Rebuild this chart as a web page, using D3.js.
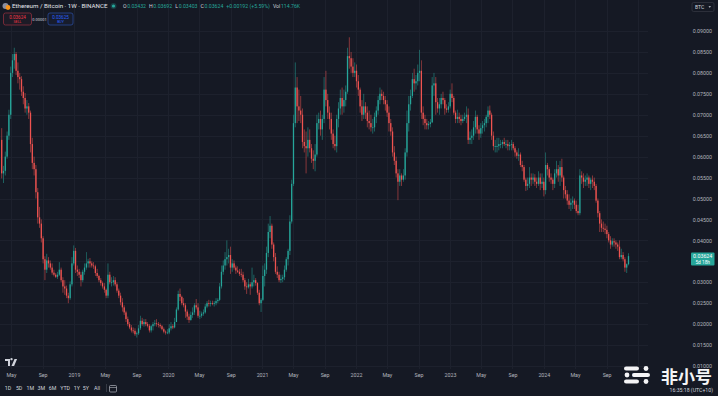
<!DOCTYPE html>
<html lang="en">
<head>
<meta charset="UTF-8">
<title>Ethereum / Bitcoin · 1W · BINANCE</title>
<script src="https://d3js.org/d3.v7.min.js"></script>
<style>
  body { margin: 0; background: #151924; overflow: hidden; }
  svg { display: block; font-family: Roboto, "Noto Sans", sans-serif; }
</style>
</head>
<body>
<svg id="chart" width="718" height="396"></svg>
<script>
// weekly candles, first week opens Monday 2018-03-26, open = previous close
const firstWeek = "2018-03-26";
const firstOpen = 0.0640;

const closes = [
  0.0560,0.0566,0.0600,0.0650,0.0700,0.0800,0.0830,0.0845,0.0805,0.0790,
  0.0785,0.0755,0.0740,0.0715,0.0720,0.0705,0.0630,0.0585,0.0570,0.0515,
  0.0455,0.0440,0.0405,0.0355,0.0330,0.0352,0.0345,0.0335,0.0323,0.0318,
  0.0313,0.0318,0.0330,0.0305,0.0290,0.0285,0.0268,0.0262,0.0295,0.0345,
  0.0375,0.0330,0.0325,0.0318,0.0305,0.0325,0.0335,0.0345,0.0350,0.0345,
  0.0340,0.0338,0.0322,0.0315,0.0305,0.0298,0.0290,0.0282,0.0268,0.0318,
  0.0300,0.0300,0.0305,0.0295,0.0280,0.0268,0.0252,0.0240,0.0228,0.0212,
  0.0200,0.0192,0.0185,0.0184,0.0176,0.0178,0.0190,0.0208,0.0200,0.0205,
  0.0200,0.0196,0.0185,0.0195,0.0200,0.0202,0.0200,0.0198,0.0195,0.0188,
  0.0182,0.0180,0.0180,0.0190,0.0195,0.0192,0.0205,0.0235,0.0272,0.0265,
  0.0250,0.0245,0.0230,0.0218,0.0210,0.0222,0.0228,0.0245,0.0240,0.0220,
  0.0220,0.0225,0.0228,0.0242,0.0250,0.0248,0.0250,0.0248,0.0250,0.0255,
  0.0258,0.0290,0.0325,0.0340,0.0355,0.0360,0.0365,0.0335,0.0345,0.0335,
  0.0328,0.0325,0.0320,0.0318,0.0305,0.0290,0.0288,0.0295,0.0290,0.0300,
  0.0305,0.0298,0.0275,0.0250,0.0258,0.0315,0.0330,0.0370,0.0420,0.0435,
  0.0390,0.0360,0.0325,0.0318,0.0305,0.0308,0.0312,0.0330,0.0355,0.0375,
  0.0445,0.0535,0.0680,0.0765,0.0720,0.0710,0.0700,0.0635,0.0625,0.0620,
  0.0640,0.0620,0.0595,0.0590,0.0605,0.0680,0.0690,0.0665,0.0690,0.0760,
  0.0735,0.0705,0.0690,0.0655,0.0630,0.0625,0.0690,0.0715,0.0740,0.0720,
  0.0735,0.0755,0.0840,0.0835,0.0815,0.0800,0.0805,0.0780,0.0760,0.0720,
  0.0700,0.0720,0.0705,0.0685,0.0680,0.0670,0.0670,0.0695,0.0710,0.0735,
  0.0750,0.0745,0.0735,0.0725,0.0705,0.0680,0.0660,0.0610,0.0590,0.0560,
  0.0540,0.0555,0.0545,0.0555,0.0610,0.0680,0.0725,0.0745,0.0785,0.0775,
  0.0780,0.0800,0.0805,0.0705,0.0690,0.0680,0.0675,0.0678,0.0682,0.0770,
  0.0775,0.0730,0.0715,0.0725,0.0740,0.0735,0.0715,0.0712,0.0720,0.0750,
  0.0740,0.0705,0.0690,0.0695,0.0690,0.0685,0.0690,0.0695,0.0700,0.0640,
  0.0645,0.0650,0.0670,0.0695,0.0665,0.0655,0.0668,0.0675,0.0680,0.0695,
  0.0710,0.0700,0.0650,0.0625,0.0625,0.0625,0.0630,0.0630,0.0635,0.0630,
  0.0630,0.0625,0.0628,0.0630,0.0620,0.0610,0.0602,0.0605,0.0580,0.0575,
  0.0545,0.0530,0.0535,0.0550,0.0545,0.0550,0.0540,0.0535,0.0550,0.0535,
  0.0540,0.0520,0.0580,0.0570,0.0550,0.0545,0.0535,0.0560,0.0570,0.0555,
  0.0575,0.0550,0.0520,0.0510,0.0495,0.0485,0.0490,0.0495,0.0485,0.0470,
  0.0465,0.0555,0.0550,0.0540,0.0545,0.0550,0.0535,0.0545,0.0540,0.0530,
  0.0495,0.0465,0.0440,0.0430,0.0428,0.0425,0.0415,0.0400,0.0390,0.0398,
  0.0395,0.0390,0.0385,0.0360,0.0365,0.0355,0.0335,0.03432,0.03624
];

const highs = [
  0.0668,0.0578,0.0612,0.0660,0.0712,0.0815,0.0845,0.0860,0.0850,0.0825,
  0.0800,0.0792,0.0768,0.0752,0.0735,0.0728,0.0710,0.0645,0.0600,0.0580,
  0.0525,0.0480,0.0450,0.0410,0.0362,0.0368,0.0360,0.0352,0.0345,0.0330,
  0.0322,0.0325,0.0348,0.0335,0.0312,0.0305,0.0292,0.0275,0.0302,0.0360,
  0.0388,0.0382,0.0340,0.0332,0.0325,0.0330,0.0345,0.0372,0.0356,0.0358,
  0.0350,0.0348,0.0342,0.0332,0.0318,0.0310,0.0302,0.0298,0.0285,0.0345,
  0.0325,0.0312,0.0315,0.0312,0.0300,0.0285,0.0275,0.0262,0.0245,0.0232,
  0.0218,0.0205,0.0198,0.0192,0.0190,0.0182,0.0198,0.0220,0.0215,0.0212,
  0.0212,0.0205,0.0200,0.0198,0.0205,0.0210,0.0212,0.0205,0.0202,0.0198,
  0.0192,0.0185,0.0188,0.0200,0.0205,0.0200,0.0215,0.0240,0.0280,0.0285,
  0.0268,0.0262,0.0250,0.0235,0.0225,0.0230,0.0240,0.0250,0.0260,0.0250,
  0.0232,0.0230,0.0235,0.0248,0.0255,0.0258,0.0256,0.0256,0.0255,0.0262,
  0.0262,0.0298,0.0340,0.0352,0.0372,0.0400,0.0380,0.0385,0.0355,0.0352,
  0.0340,0.0338,0.0332,0.0332,0.0325,0.0310,0.0300,0.0308,0.0300,0.0335,
  0.0318,0.0310,0.0300,0.0282,0.0262,0.0340,0.0345,0.0385,0.0440,0.0458,
  0.0440,0.0395,0.0370,0.0338,0.0325,0.0318,0.0318,0.0340,0.0360,0.0380,
  0.0460,0.0545,0.0700,0.0825,0.0790,0.0760,0.0745,0.0715,0.0665,0.0660,
  0.0670,0.0665,0.0630,0.0615,0.0630,0.0700,0.0705,0.0710,0.0700,0.0790,
  0.0805,0.0750,0.0720,0.0705,0.0665,0.0650,0.0700,0.0730,0.0760,0.0765,
  0.0760,0.0770,0.0860,0.0885,0.0850,0.0835,0.0825,0.0820,0.0795,0.0765,
  0.0735,0.0750,0.0730,0.0720,0.0710,0.0700,0.0690,0.0705,0.0720,0.0745,
  0.0765,0.0760,0.0755,0.0745,0.0735,0.0720,0.0690,0.0670,0.0625,0.0600,
  0.0570,0.0570,0.0560,0.0570,0.0620,0.0710,0.0745,0.0760,0.0800,0.0810,
  0.0795,0.0820,0.0855,0.0830,0.0720,0.0700,0.0690,0.0685,0.0690,0.0790,
  0.0800,0.0790,0.0740,0.0740,0.0750,0.0755,0.0740,0.0725,0.0730,0.0760,
  0.0775,0.0745,0.0710,0.0712,0.0705,0.0700,0.0700,0.0705,0.0720,0.0715,
  0.0660,0.0665,0.0685,0.0710,0.0700,0.0675,0.0680,0.0685,0.0690,0.0700,
  0.0720,0.0722,0.0705,0.0660,0.0640,0.0645,0.0645,0.0640,0.0640,0.0645,
  0.0640,0.0640,0.0635,0.0640,0.0635,0.0625,0.0615,0.0620,0.0610,0.0590,
  0.0580,0.0550,0.0550,0.0575,0.0560,0.0560,0.0558,0.0550,0.0565,0.0560,
  0.0560,0.0550,0.0610,0.0585,0.0575,0.0560,0.0550,0.0570,0.0590,0.0580,
  0.0590,0.0595,0.0555,0.0530,0.0520,0.0510,0.0500,0.0505,0.0500,0.0495,
  0.0485,0.0570,0.0565,0.0560,0.0555,0.0560,0.0555,0.0550,0.0555,0.0550,
  0.0535,0.0500,0.0470,0.0450,0.0445,0.0440,0.0435,0.0420,0.0410,0.0405,
  0.0405,0.0400,0.0395,0.0400,0.0380,0.0372,0.0360,0.0345,0.03692
];

const lows = [
  0.0548,0.0537,0.0555,0.0595,0.0640,0.0690,0.0790,0.0810,0.0795,0.0775,
  0.0760,0.0745,0.0725,0.0705,0.0700,0.0690,0.0610,0.0570,0.0555,0.0500,
  0.0440,0.0430,0.0395,0.0345,0.0305,0.0322,0.0335,0.0330,0.0318,0.0314,
  0.0310,0.0308,0.0315,0.0300,0.0275,0.0270,0.0262,0.0250,0.0258,0.0290,
  0.0340,0.0322,0.0315,0.0310,0.0290,0.0300,0.0318,0.0330,0.0335,0.0335,
  0.0335,0.0332,0.0315,0.0310,0.0300,0.0292,0.0285,0.0275,0.0262,0.0262,
  0.0295,0.0290,0.0292,0.0290,0.0275,0.0262,0.0245,0.0230,0.0222,0.0205,
  0.0195,0.0188,0.0180,0.0178,0.0172,0.0168,0.0174,0.0186,0.0196,0.0194,
  0.0195,0.0192,0.0180,0.0180,0.0185,0.0195,0.0194,0.0192,0.0190,0.0185,
  0.0178,0.0175,0.0176,0.0176,0.0185,0.0188,0.0190,0.0205,0.0232,0.0255,
  0.0245,0.0240,0.0215,0.0210,0.0203,0.0208,0.0215,0.0222,0.0235,0.0215,
  0.0212,0.0215,0.0220,0.0225,0.0238,0.0242,0.0242,0.0245,0.0242,0.0245,
  0.0250,0.0255,0.0285,0.0318,0.0330,0.0340,0.0345,0.0320,0.0325,0.0330,
  0.0320,0.0322,0.0315,0.0312,0.0300,0.0282,0.0272,0.0285,0.0270,0.0285,
  0.0290,0.0292,0.0270,0.0245,0.0229,0.0255,0.0290,0.0320,0.0360,0.0405,
  0.0380,0.0350,0.0320,0.0310,0.0300,0.0298,0.0300,0.0305,0.0325,0.0340,
  0.0365,0.0440,0.0530,0.0670,0.0680,0.0685,0.0680,0.0620,0.0610,0.0560,
  0.0600,0.0610,0.0585,0.0570,0.0565,0.0600,0.0665,0.0650,0.0640,0.0680,
  0.0720,0.0690,0.0665,0.0640,0.0620,0.0615,0.0610,0.0670,0.0700,0.0700,
  0.0705,0.0720,0.0750,0.0810,0.0800,0.0790,0.0790,0.0765,0.0745,0.0705,
  0.0685,0.0690,0.0690,0.0670,0.0665,0.0660,0.0655,0.0660,0.0680,0.0700,
  0.0725,0.0735,0.0725,0.0710,0.0695,0.0660,0.0650,0.0600,0.0580,0.0550,
  0.0496,0.0530,0.0530,0.0540,0.0545,0.0600,0.0660,0.0710,0.0740,0.0755,
  0.0760,0.0770,0.0780,0.0690,0.0675,0.0665,0.0665,0.0665,0.0670,0.0680,
  0.0745,0.0700,0.0705,0.0700,0.0715,0.0725,0.0700,0.0705,0.0705,0.0715,
  0.0730,0.0700,0.0680,0.0680,0.0680,0.0675,0.0680,0.0685,0.0680,0.0630,
  0.0630,0.0630,0.0640,0.0655,0.0655,0.0640,0.0645,0.0655,0.0660,0.0670,
  0.0680,0.0690,0.0640,0.0615,0.0610,0.0610,0.0615,0.0620,0.0620,0.0625,
  0.0620,0.0615,0.0615,0.0615,0.0615,0.0600,0.0595,0.0590,0.0575,0.0565,
  0.0540,0.0518,0.0520,0.0525,0.0530,0.0535,0.0530,0.0525,0.0530,0.0520,
  0.0525,0.0505,0.0510,0.0555,0.0540,0.0535,0.0520,0.0525,0.0550,0.0540,
  0.0530,0.0540,0.0500,0.0500,0.0485,0.0475,0.0470,0.0475,0.0475,0.0465,
  0.0460,0.0460,0.0535,0.0525,0.0530,0.0530,0.0525,0.0520,0.0525,0.0520,
  0.0490,0.0455,0.0420,0.0420,0.0420,0.0415,0.0405,0.0395,0.0380,0.0385,
  0.0385,0.0380,0.0375,0.0355,0.0355,0.0350,0.0325,0.0322,0.03403
];

const priceTicks = [0.09, 0.085, 0.08, 0.075, 0.07, 0.065, 0.06, 0.055, 0.05,
                    0.045, 0.04, 0.035, 0.03, 0.025, 0.02, 0.015, 0.01];
const rangeButtons = ["1D", "5D", "1M", "3M", "6M", "YTD", "1Y", "5Y", "All"];
const legendParts = [
  ["O", "0.03432"], ["H", "0.03692"], ["L", "0.03403"], ["C", "0.03624"],
  ["", "+0.00192 (+5.59%)"], ["Vol", "114.76K"]
];

const up = "#26a69a", down = "#ef5350";
const textCol = "#d1d4dc", axisCol = "#b2b5be", gridCol = "#1d212d";
const paneRight = 648, paneBottom = 369;

const svg = d3.select("#chart");

const start = new Date(firstWeek + "T00:00:00Z");
const candles = closes.map((c, i) => ({
  date: d3.utcDay.offset(start, 7 * i),
  o: i === 0 ? firstOpen : closes[i - 1],
  h: highs[i], l: lows[i], c: c
}));
const last = candles[candles.length - 1];

const x = d3.scaleUtc()
  .domain([new Date(Date.UTC(2019, 0, 1)), new Date(Date.UTC(2024, 10, 25))])
  .range([74, 628.5]);
const y = d3.scaleLinear().domain([0.01, 0.09]).range([366, 31]);
const ly = y(last.c);

const timeTicks = d3.utcMonth.every(4).range(new Date(Date.UTC(2018, 4, 1)), new Date(Date.UTC(2025, 1, 1)));
const fmtTime = d => d.getUTCMonth() === 0 ? d3.utcFormat("%Y")(d) : d3.utcFormat("%b")(d);

// grid
const grid = svg.append("g");
grid.selectAll(".vg").data(timeTicks).join("line")
  .attr("x1", d => Math.round(x(d)) + 0.5).attr("x2", d => Math.round(x(d)) + 0.5)
  .attr("y1", 0).attr("y2", paneBottom)
  .attr("stroke", gridCol);
grid.selectAll(".hg").data(priceTicks).join("line")
  .attr("x1", 0).attr("x2", paneRight)
  .attr("y1", d => Math.round(y(d)) + 0.5).attr("y2", d => Math.round(y(d)) + 0.5)
  .attr("stroke", gridCol);

// candles
const colorOf = d => d.c >= d.o ? up : down;
const bars = svg.append("g").selectAll("g").data(candles).join("g");
bars.append("line")
  .attr("x1", d => x(d.date)).attr("x2", d => x(d.date))
  .attr("y1", d => y(d.h)).attr("y2", d => y(d.l))
  .attr("stroke", colorOf).attr("stroke-width", 0.7).attr("opacity", 0.75);
bars.append("rect")
  .attr("x", d => x(d.date) - 0.65).attr("width", 1.3)
  .attr("y", d => y(Math.max(d.o, d.c)))
  .attr("height", d => Math.max(0.8, Math.abs(y(d.o) - y(d.c))))
  .attr("fill", colorOf);

// price scale (labels hidden under the last price tag are skipped, like TV does)
const shownTicks = priceTicks.filter(p => Math.abs(y(p) - (ly + 3)) > 9);
const yAxis = d3.axisLeft(y).tickValues(shownTicks).tickFormat(d3.format(".5f"))
  .tickSize(0).tickPadding(0);
const ya = svg.append("g").attr("transform", "translate(712,0)").call(yAxis);
ya.select(".domain").remove();
ya.selectAll("text").attr("fill", axisCol).attr("font-size", 5.3).attr("font-family", "Roboto");

// time scale
const xAxis = d3.axisBottom(x).tickValues(timeTicks).tickFormat(fmtTime).tickSize(0).tickPadding(0);
const xa = svg.append("g").attr("transform", "translate(0,373)").call(xAxis);
xa.select(".domain").remove();
xa.selectAll("text").attr("fill", axisCol).attr("font-size", 5.3).attr("font-family", "Roboto");

// last price label
svg.append("rect").attr("x", 691).attr("y", ly - 3.5).attr("width", 23.5).attr("height", 13)
  .attr("rx", 1).attr("fill", up);
svg.append("text").attr("x", 702.7).attr("y", ly + 1.9).attr("text-anchor", "middle")
  .attr("font-size", 5.3).attr("fill", "#fff").text(d3.format(".5f")(last.c));
svg.append("text").attr("x", 702.7).attr("y", ly + 7.8).attr("text-anchor", "middle")
  .attr("font-size", 4.8).attr("fill", "#fff").text("5d 18h");

// header
const head = svg.append("g");
head.append("circle").attr("cx", 5.5).attr("cy", 6).attr("r", 3).attr("fill", "#8a8ea0");
head.append("circle").attr("cx", 8).attr("cy", 7.5).attr("r", 2.4).attr("fill", "#f7931a");
head.append("text").attr("x", 12).attr("y", 8.3).attr("font-size", 6.2).attr("fill", "#e4e6ec")
  .text("Ethereum / Bitcoin · 1W · BINANCE");
head.append("circle").attr("cx", 113.5).attr("cy", 6).attr("r", 3).attr("fill", up).attr("opacity", 0.25);
head.append("circle").attr("cx", 113.5).attr("cy", 6).attr("r", 1.6).attr("fill", up);

const legend = head.append("text").attr("x", 123).attr("y", 8.2).attr("font-size", 5.2);
legendParts.forEach(([k, v], i) => {
  if (k) legend.append("tspan").attr("fill", textCol).attr("dx", i ? 3 : 0).text(k);
  legend.append("tspan").attr("fill", up).attr("dx", k ? 0.6 : 3).text(v);
});

// sell / buy boxes
head.append("rect").attr("x", 3.5).attr("y", 13).attr("width", 28).attr("height", 12).attr("rx", 2)
  .attr("fill", "#1d1b26").attr("stroke", "#8c2f3c").attr("stroke-width", 0.8);
head.append("text").attr("x", 17.5).attr("y", 18.6).attr("text-anchor", "middle")
  .attr("font-size", 4.6).attr("fill", "#f23645").text("0.03624");
head.append("text").attr("x", 17.5).attr("y", 23.3).attr("text-anchor", "middle")
  .attr("font-size", 3.6).attr("fill", "#f23645").text("SELL");
head.append("text").attr("x", 39.5).attr("y", 20.5).attr("text-anchor", "middle")
  .attr("font-size", 4).attr("fill", textCol).text("0.00001");
head.append("rect").attr("x", 48).attr("y", 13).attr("width", 25).attr("height", 12).attr("rx", 2)
  .attr("fill", "#171c2c").attr("stroke", "#2a4a9a").attr("stroke-width", 0.8);
head.append("text").attr("x", 60.5).attr("y", 18.6).attr("text-anchor", "middle")
  .attr("font-size", 4.6).attr("fill", "#2962ff").text("0.03625");
head.append("text").attr("x", 60.5).attr("y", 23.3).attr("text-anchor", "middle")
  .attr("font-size", 3.6).attr("fill", "#2962ff").text("BUY");

// currency button
svg.append("rect").attr("x", 692).attr("y", 2.5).attr("width", 22).attr("height", 9).attr("rx", 1.5)
  .attr("fill", "none").attr("stroke", "#363a45").attr("stroke-width", 0.7);
svg.append("text").attr("x", 695).attr("y", 8.7).attr("font-size", 5).attr("fill", textCol).text("BTC");
svg.append("path").attr("d", "M708.5,6.2 L711,6.2 L709.75,7.7 Z").attr("fill", textCol);

// TV logo
svg.append("path")
  .attr("d", "M5,359 h5 v7 h-2 v-5 h-3 z M11.5,360.3 a1.2,1.2 0 1 1 0.01,0 z M14.5,359 h2.6 l-3,7 h-2.6 z")
  .attr("fill", textCol);

// bottom toolbar
const tb = svg.append("g").attr("font-size", 5.3).attr("fill", textCol);
const btnX = d3.scalePoint().domain(rangeButtons).range([8, 97]);
tb.selectAll("text").data(rangeButtons).join("text")
  .attr("x", d => btnX(d) + (d === "YTD" ? 1.5 : d === "1Y" ? 2 : 0))
  .attr("y", 390).attr("text-anchor", "middle").text(d => d);
svg.append("line").attr("x1", 106.5).attr("x2", 106.5).attr("y1", 384).attr("y2", 392).attr("stroke", "#363a45");
svg.append("rect").attr("x", 109.5).attr("y", 385.5).attr("width", 7).attr("height", 6.5).attr("rx", 1)
  .attr("fill", "none").attr("stroke", axisCol).attr("stroke-width", 0.7);
svg.append("line").attr("x1", 109.5).attr("x2", 116.5).attr("y1", 387.5).attr("y2", 387.5).attr("stroke", axisCol).attr("stroke-width", 0.6);

// watermark
const wm = svg.append("g").attr("fill", "#f4f4f6");
[[368.5, 624, 15, 646], [375, 632, 18, 627], [381.5, 624, 15, 646]].forEach(([cy, bx, bw, dx]) => {
  wm.append("rect").attr("x", bx).attr("y", cy - 2.1).attr("width", bw).attr("height", 4.2).attr("rx", 2.1);
  wm.append("circle").attr("cx", dx).attr("cy", cy).attr("r", 2.4);
});
wm.append("text").attr("x", 712).attr("y", 383).attr("text-anchor", "end")
  .attr("font-family", "'Noto Sans CJK SC', sans-serif").attr("font-weight", 700)
  .attr("font-size", 17).text("非小号");

svg.append("text").attr("x", 713).attr("y", 391.5).attr("text-anchor", "end")
  .attr("font-size", 5.2).attr("fill", textCol).text("16:35:18 (UTC+10)");
</script>
</body>
</html>
